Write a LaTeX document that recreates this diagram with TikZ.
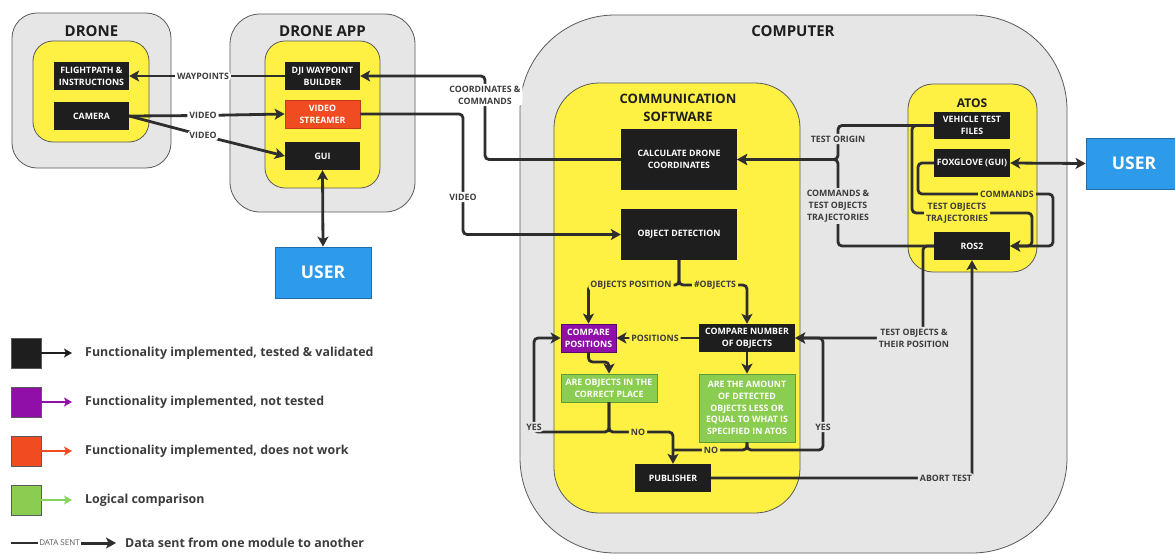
\documentclass[tikz,border=0pt]{standalone}
\usepackage{fontspec}
\setmainfont{Open Sans}
\usetikzlibrary{arrows.meta}
\definecolor{shellgray}{HTML}{E6E6E6}
\definecolor{edgegray}{HTML}{5A5A5A}
\definecolor{coreyel}{HTML}{FEF143}
\definecolor{ink}{HTML}{1E1E1E}
\definecolor{linegray}{HTML}{2E2E2E}
\definecolor{lblgray}{HTML}{3C3C3C}
\definecolor{purp}{HTML}{8F0FA8}
\definecolor{purpedge}{HTML}{5E0670}
\definecolor{failred}{HTML}{F14B22}
\definecolor{failedge}{HTML}{C0391A}
\definecolor{okgreen}{HTML}{8ACD51}
\definecolor{okedge}{HTML}{5E9B35}
\definecolor{arrowgreen}{HTML}{86D459}
\definecolor{userblue}{HTML}{2D9BEA}
\definecolor{useredge}{HTML}{1F6DAA}
\tikzset{
  >={Stealth[length=10pt,width=11pt,inset=2.5pt]},
  shell/.style={draw=edgegray,fill=shellgray,line width=0.8pt,inner sep=0pt},
  core/.style={draw=edgegray,fill=coreyel,line width=0.8pt,inner sep=0pt},
  block/.style={fill=ink,text=white,inner sep=0pt,align=center,font=\fontsize{8.8}{11.8}\selectfont\bfseries},
  check/.style={block,fill=okgreen,draw=okedge,line width=0.8pt},
  user/.style={fill=userblue,draw=useredge,line width=0.8pt,text=white,inner sep=0pt,font=\fontsize{17.5}{20}\selectfont\bfseries},
  head/.style={text=ink,align=center,font=\fontsize{15}{18}\selectfont\bfseries},
  lbl/.style={text=lblgray,fill=#1,align=center,inner sep=2pt,font=\fontsize{8.8}{11.8}\selectfont\bfseries},
  lbl/.default=white,
  flow/.style={draw=linegray,line width=2.8pt,rounded corners=4pt,->},
  link/.style={draw=linegray,line width=2.8pt,rounded corners=4pt},
  twoway/.style={draw=linegray,line width=2.8pt,<->},
  swatch/.style={draw=edgegray,line width=0.8pt,minimum size=30,inner sep=0pt},
  keyflow/.style={line width=2pt,shorten >=13pt,-{Stealth[length=8pt,width=9pt,inset=2pt]}},
  note/.style={text=lblgray,anchor=west,inner sep=0pt,font=\fontsize{12.4}{14}\selectfont\bfseries}
}
\begin{document}
\begin{tikzpicture}[x=1pt,y=-1pt]
\useasboundingbox (0,0) rectangle (1175,554);

\node[shell,rounded corners=25,minimum width=159,minimum height=155] (drone) at (91.5,90.5) {};
\node[core,rounded corners=20,minimum width=116,minimum height=101] (dronein) at (91,91.5) {};
\node[head] (dronet) at (91.5,31) {DRONE};
\node[block,minimum width=75,minimum height=28] (flight) at (91.5,76) {FLIGHTPATH \&\\INSTRUCTIONS};
\node[block,minimum width=75,minimum height=28] (camera) at (91.5,116) {CAMERA};

\node[shell,rounded corners=30,minimum width=185,minimum height=198] (app) at (322.5,113) {};
\node[core,rounded corners=20,minimum width=115,minimum height=147] (appin) at (322.5,114.5) {};
\node[head] (appt) at (322.5,31) {DRONE APP};
\node[block,minimum width=75,minimum height=28] (dji) at (322.5,76) {DJI WAYPOINT\\BUILDER};
\node[block,fill=failred,draw=failedge,line width=0.8pt,minimum width=75,minimum height=28] (streamer) at (322.5,114) {VIDEO\\STREAMER};
\node[block,minimum width=75,minimum height=28] (gui) at (322.5,156) {GUI};
\node[user,minimum width=96,minimum height=51] (userl) at (323,272.5) {USER};

\node[shell,rounded corners=95,minimum width=547,minimum height=538] (comp) at (793.5,284) {};
\node[head] (compt) at (793,31) {COMPUTER};
\node[core,rounded corners=45,minimum width=246,minimum height=430] (comm) at (677,298) {};
\node[head,font=\fontsize{13}{18}\selectfont\bfseries] (commt) at (678,108) {COMMUNICATION\\SOFTWARE};
\node[core,rounded corners=25,minimum width=129,minimum height=188] (atos) at (972.5,178) {};
\node[head,font=\fontsize{12}{14}\selectfont\bfseries] (atost) at (972,103) {ATOS};

\node[block,minimum width=116,minimum height=61] (calc) at (679,159.5) {CALCULATE DRONE\\COORDINATES};
\node[block,minimum width=116,minimum height=51] (objdet) at (679,234.5) {OBJECT DETECTION};
\node[block,fill=purp,draw=purpedge,line width=0.8pt,minimum width=55,minimum height=28] (cmppos) at (588.5,338) {COMPARE\\POSITIONS};
\node[block,minimum width=96,minimum height=28] (cmpnum) at (747,338) {COMPARE NUMBER\\OF OBJECTS};
\node[check,minimum width=96,minimum height=28] (place) at (609,388) {ARE OBJECTS IN THE\\CORRECT PLACE};
\node[check,minimum width=96,minimum height=68] (amount) at (747,408) {ARE THE AMOUNT\\OF DETECTED\\OBJECTS LESS OR\\EQUAL TO WHAT IS\\SPECIFIED IN ATOS};
\node[block,minimum width=76,minimum height=28] (publisher) at (673,478) {PUBLISHER};

\node[block,minimum width=76,minimum height=27] (vtf) at (972,125.5) {VEHICLE TEST\\FILES};
\node[block,minimum width=76,minimum height=28] (fox) at (972,163) {FOXGLOVE (GUI)};
\node[block,minimum width=76,minimum height=28] (ros) at (972,246) {ROS2};
\node[user,minimum width=96,minimum height=51] (userr) at (1134,163.5) {USER};

\draw[flow] (dji.west) -- (203,76) node[lbl]{WAYPOINTS} -- (flight.east);
\draw[flow] (camera.east) -- (203,115.5) node[lbl]{VIDEO} -- (streamer.west);
\draw[flow] (camera.east) -- (203,135.5) node[lbl]{VIDEO} -- (gui.west);
\draw[twoway] (gui.south) -- (userl.north);
\draw[flow] (calc.west) -- (485,159.5) -- (485,95) node[lbl]{COORDINATES \&\\COMMANDS} -- (485,76) -- (dji.east);
\draw[flow] (streamer.east) -- (463,114) -- (463,197) node[lbl]{VIDEO} -- (463,234.5) -- (objdet.west);

\draw[flow] (vtf.west) -- (838,125.5) -- (838,139) node[lbl=shellgray]{TEST ORIGIN} -- (838,159.5) -- (calc.east);
\draw[flow] (ros.west) -- (838,246) -- (838,206) node[lbl=shellgray]{COMMANDS \&\\TEST OBJECTS\\TRAJECTORIES} -- (838,159.5) -- (calc.east);
\draw[flow] (vtf.west) -- (912,125.5) -- (912,213) -- (957,213) node[lbl=coreyel]{TEST OBJECTS\\TRAJECTORIES} -- (1032,213) -- (1032,246) -- (ros.east);
\draw[flow] (fox.west) -- (918,163) -- (918,194) -- (1007,194) node[lbl=coreyel]{COMMANDS} -- (1053,194) -- (1053,246) -- (ros.east);
\draw[twoway] (fox.east) -- (userr.west);
\draw[flow] (ros.west) -- (923,246) -- (923,338) -- (914,338) node[lbl=shellgray]{TEST OBJECTS \&\\THEIR POSITION} -- (cmpnum.east);
\draw[flow] (publisher.east) -- (946,478) node[lbl=shellgray]{ABORT TEST} -| (ros.south);

\draw[flow] (objdet.south) -- (679,285) -- (631,285) node[lbl=coreyel]{OBJECTS POSITION} -| (cmppos.north);
\draw[flow] (objdet.south) -- (679,285) -- (715,285) node[lbl=coreyel]{\#OBJECTS} -| (cmpnum.north);
\draw[flow] (cmpnum.west) -- (655,338) node[lbl=coreyel]{POSITIONS} -- (cmppos.east);
\draw[flow] (cmppos.south) -- (588.5,362) -| (place.north);
\draw[flow] (cmpnum.south) -- (amount.north);
\draw[flow] (place.south) -- (609,432) -- (534,432) -- (534,427) node[lbl=shellgray]{YES} |- (cmppos.west);
\draw[flow] (place.south) -- (609,432) -- (638,432) node[lbl=coreyel]{NO} -| (publisher.north);
\draw[link] (amount.south) -- (747,450) -- (711,450) node[lbl=coreyel]{NO} -- (673,450);
\draw[flow] (amount.south) -- (747,450) -- (823,450) -- (823,427) node[lbl=shellgray]{YES} |- (cmpnum.east);

\node[swatch,fill=ink] (k1) at (26,353) {};
\node[note] (t1) at (85,353) {Functionality implemented, tested \& validated};
\draw[keyflow,draw=ink] (k1.east) -- (t1.west);
\node[swatch,fill=purp] (k2) at (26,402) {};
\node[note] (t2) at (85,402) {Functionality implemented, not tested};
\draw[keyflow,draw=purp] (k2.east) -- (t2.west);
\node[swatch,fill=failred] (k3) at (26,451) {};
\node[note] (t3) at (85,451) {Functionality implemented, does not work};
\draw[keyflow,draw=failred] (k3.east) -- (t3.west);
\node[swatch,fill=okgreen] (k4) at (26,500) {};
\node[note] (t4) at (85,500) {Logical comparison};
\draw[keyflow,draw=arrowgreen] (k4.east) -- (t4.west);

\coordinate (d0) at (11,543);
\node[text=edgegray,inner sep=1.5pt,font=\fontsize{8}{9}\selectfont] (dsent) at (59.5,543) {DATA SENT};
\node[note] (t5) at (125,543) {Data sent from one module to another};
\draw[link,line width=2.5pt] (d0) -- (dsent.west);
\draw[draw=linegray,line width=3pt,shorten >=9pt,->] (dsent.east) -- (t5.west);
\end{tikzpicture}
\end{document}
